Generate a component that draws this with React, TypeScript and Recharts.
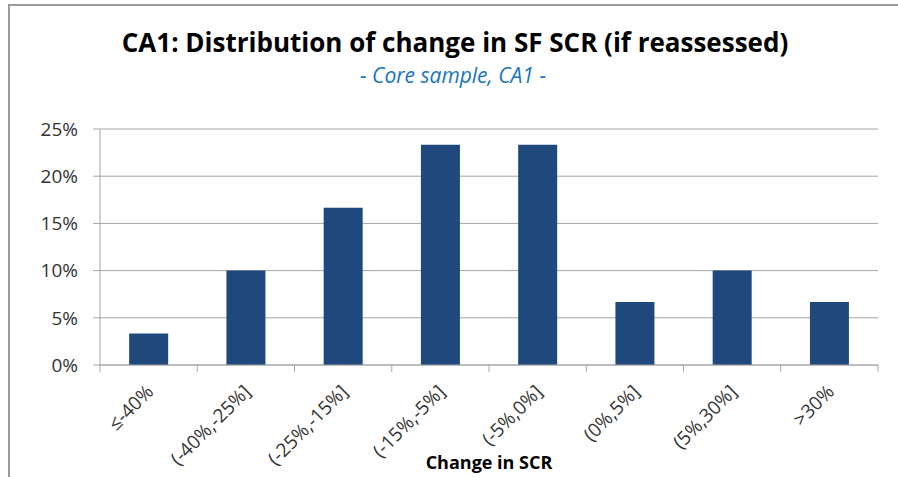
import React from "react";
import { BarChart, Bar, XAxis, YAxis, CartesianGrid } from "recharts";

const categories = ["≤-40%", "(-40%,-25%]", "(-25%,-15%]", "(-15%,-5%]", "(-5%,0%]", "(0%,5%]", "(5%,30%]", ">30%"];
const shares = [3.33, 10, 16.67, 23.33, 23.33, 6.67, 10, 6.67];
const yTicks = [0, 5, 10, 15, 20, 25];

const data = categories.map((c, i) => ({ cat: c, share: shares[i] }));

const FONT = "'Open Sans', sans-serif";
const GRID = "#a6a6a6";
const TICK = 7;

const XTick = (props: any) => {
  const { x, y, payload, index } = props;
  const half = payload && payload.offset ? payload.offset : 0;
  const axisY = y - TICK;
  const ax = x + 6;
  const ay = y + 21;
  const isLast = index === categories.length - 1;
  return (
    <g>
      <line x1={x - half} x2={x - half} y1={axisY} y2={axisY + TICK} stroke={GRID} />
      {isLast && <line x1={x + half} x2={x + half} y1={axisY} y2={axisY + TICK} stroke={GRID} />}
      <text
        x={ax}
        y={ay}
        transform={`rotate(-45, ${ax}, ${ay})`}
        textAnchor="end"
        fontFamily={FONT}
        fontSize={19}
        fill="#333"
      >
        {payload.value}
      </text>
    </g>
  );
};

const XTitle = (props: any) => {
  const { viewBox } = props;
  const cx = viewBox.x + viewBox.width / 2;
  return (
    <text x={cx} y={469} textAnchor="middle" fontFamily={FONT} fontWeight="bold" fontSize={18} fill="#000">
      Change in SCR
    </text>
  );
};

export default function App() {
  return (
    <div style={{ position: "absolute", left: 0, top: 0, width: 898, height: 477, background: "#fff", overflow: "hidden" }}>
      <div
        style={{
          position: "absolute",
          left: 8,
          top: 4,
          width: 1000,
          height: 1000,
          borderTop: "2px solid #9a9a9a",
          borderLeft: "2px solid #9a9a9a",
        }}
      />
      <svg width={898} height={110} style={{ position: "absolute", left: 0, top: 0 }}>
        <text x={455} y={52} textAnchor="middle" fontFamily={FONT} fontWeight="bold" fontSize={26} fill="#000">
          CA1: Distribution of change in SF SCR (if reassessed)
        </text>
        <text x={453} y={83} textAnchor="middle" fontFamily={FONT} fontStyle="italic" fontSize={21} fill="#1a75bf">
          - Core sample, CA1 -
        </text>
      </svg>
      <div style={{ position: "absolute", left: 0, top: 0 }}>
        <BarChart width={898} height={477} data={data} margin={{ top: 129, right: 20, left: 0, bottom: 0 }} barCategoryGap="30%">
          <CartesianGrid horizontal={true} vertical={false} stroke={GRID} />
          <XAxis
            dataKey="cat"
            interval={0}
            tickLine={false}
            axisLine={{ stroke: GRID }}
            tick={<XTick />}
            tickSize={TICK}
            tickMargin={0}
            height={112}
            label={<XTitle />}
          />
          <YAxis
            domain={[0, 25]}
            ticks={yTicks}
            tickFormatter={(v: number) => `${v}%`}
            width={100}
            axisLine={{ stroke: GRID }}
            tickLine={{ stroke: GRID }}
            tickSize={TICK}
            tickMargin={15}
            tick={{ fontFamily: FONT, fontSize: 19, fill: "#333" }}
          />
          <Bar dataKey="share" fill="#1f497d" isAnimationActive={false} />
        </BarChart>
      </div>
    </div>
  );
}
